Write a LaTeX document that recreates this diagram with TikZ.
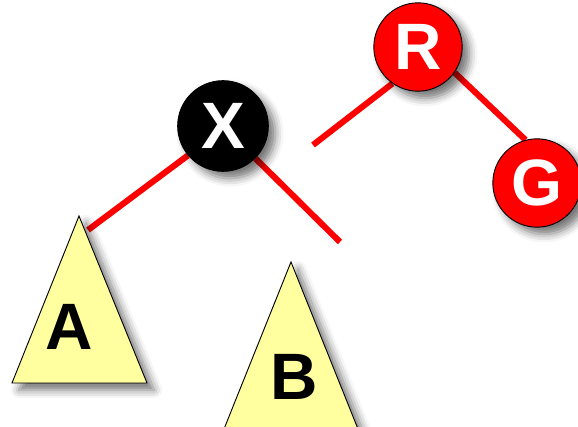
\documentclass[tikz,border=0pt]{standalone}
\usepackage{fontspec}
\setmainfont{Liberation Sans}
\usetikzlibrary{shadows.blur, backgrounds}
\definecolor{subtreefill}{RGB}{255,255,160}

\begin{document}
\begin{tikzpicture}[
    x=0.03cm, y=-0.03cm,
    letter/.style={font=\fontsize{56}{56}\selectfont\bfseries},
    soft/.style={blur shadow={shadow xshift=6pt, shadow yshift=-6pt,
      shadow blur radius=7pt, shadow opacity=55}},
    blacknode/.style={
      circle, draw, thick, fill=black, text=white,
      minimum size=2.72cm, inner sep=0pt, letter, soft},
    rednode/.style={
      circle, draw, thick, fill=red, text=white,
      minimum size=2.65cm, inner sep=0pt, letter, soft},
    subtree/.style={draw, thick, fill=subtreefill, soft},
    edge/.style={red, line width=5.2pt},
]
\useasboundingbox (0,0) rectangle (578,427);

% ---- tree nodes ----
\node[blacknode] (X) at (223,126) {X};
\node[rednode]   (R) at (418,47)  {R};
\node[rednode]   (G) at (537,183) {G};

% ---- subtrees A and B ----
\coordinate (Atop) at (79,216);
\coordinate (Btop) at (291,262);
\draw[subtree] (Atop) -- (12,383) -- (147,383) -- cycle;
\draw[subtree] (Btop) -- (224,429) -- (358,429) -- cycle;
\node[letter] (A) at (69,327) {A};
\node[letter] (B) at (294,377) {B};

% ---- links (under the nodes) ----
\coordinate (Alink) at (88,230);
\coordinate (Xfree) at (340,242);
\coordinate (Rfree) at (313,145);
\begin{scope}[on background layer]
  \draw[edge] (X.-140) -- (Alink);
  \draw[edge] (X.-45)  -- (Xfree);
  \draw[edge] (R.-125) -- (Rfree);
  \draw[edge] (R.-35)  -- (G.105);
\end{scope}

\end{tikzpicture}
\end{document}
